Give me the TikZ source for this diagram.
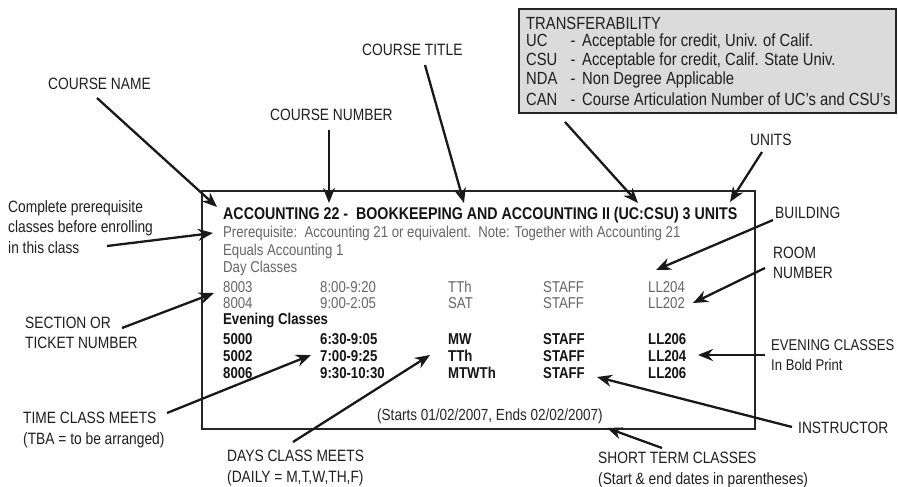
\documentclass[tikz,border=0pt]{standalone}
\usepackage{fontspec}
\setmainfont[FakeStretch=0.84]{Liberation Sans}
\usetikzlibrary{arrows.meta}
\begin{document}
\begin{tikzpicture}[x=1pt,y=-1pt,
 lab/.style={inner sep=0pt, anchor=west, font=\fontsize{16.4}{20.5}\selectfont, text=black!88, align=left},
 boxt/.style={inner sep=0pt, anchor=west, font=\fontsize{15.7}{17}\selectfont, text=black!60},
 boxb/.style={inner sep=0pt, anchor=west, font=\fontsize{15.7}{17}\selectfont\bfseries, text=black!92},
 trt/.style={inner sep=0pt, anchor=west, font=\fontsize{17.6}{18}\selectfont, text=black!88},
 arr/.style={-{Stealth[length=15pt,width=12pt]}, line width=2.3pt, draw=black!90},
 frame/.style={draw=black!85, line width=2pt},
]
\useasboundingbox (0,0) rectangle (898,487);
\fill[white] (0,0) rectangle (898,487);

% main course box
\draw[frame] (202,191) rectangle (755,429);
\node[boxb, font=\fontsize{16.95}{19}\selectfont\bfseries] (title) at (223,215) {ACCOUNTING 22 -\ \ BOOKKEEPING AND ACCOUNTING II (UC:CSU) 3 UNITS};
\node[boxt] (prereq) at (223,233) {Prerequisite:\ \ Accounting 21 or equivalent.\ \ Note: Together with Accounting 21};
\node[boxt] (equals) at (223,251) {Equals Accounting 1};
\node[boxt] (day) at (223,268) {Day Classes};
\node[boxt] (s1) at (223,287) {8003};
\node[boxt] (t1) at (320,287) {8:00-9:20};
\node[boxt] (d1) at (448,287) {TTh};
\node[boxt] (i1) at (543,287) {STAFF};
\node[boxt] (r1) at (648,287) {LL204};
\node[boxt] (s2) at (223,303) {8004};
\node[boxt] (t2) at (320,303) {9:00-2:05};
\node[boxt] (d2) at (448,303) {SAT};
\node[boxt] (i2) at (543,303) {STAFF};
\node[boxt] (r2) at (648,303) {LL202};
\node[boxb] (eve) at (223,320) {Evening Classes};
\node[boxb] (s3) at (223,339) {5000};
\node[boxb] (t3) at (320,339) {6:30-9:05};
\node[boxb] (d3) at (448,339) {MW};
\node[boxb] (i3) at (543,339) {STAFF};
\node[boxb] (r3) at (648,339) {LL206};
\node[boxb] (s4) at (223,356) {5002};
\node[boxb] (t4) at (320,356) {7:00-9:25};
\node[boxb] (d4) at (448,356) {TTh};
\node[boxb] (i4) at (543,356) {STAFF};
\node[boxb] (r4) at (648,356) {LL204};
\node[boxb] (s5) at (223,373) {8006};
\node[boxb] (t5) at (320,373) {9:30-10:30};
\node[boxb] (d5) at (448,373) {MTWTh};
\node[boxb] (i5) at (543,373) {STAFF};
\node[boxb] (r5) at (648,373) {LL206};
\node[boxt, anchor=center, text=black!85, font=\fontsize{16.1}{17}\selectfont] (dates) at (490,416) {(Starts 01/02/2007, Ends 02/02/2007)};

% transferability box
\draw[frame, fill=black!14] (519,9) rectangle (896,113);
\node[trt] (trh) at (526,23) {TRANSFERABILITY};
\node[trt] (tuc) at (526,42) {\makebox[38pt][l]{UC}\makebox[18pt]{-}Acceptable for credit, Univ. of Calif.};
\node[trt] (tcsu) at (526,61) {\makebox[38pt][l]{CSU}\makebox[18pt]{-}Acceptable for credit, Calif. State Univ.};
\node[trt] (tnda) at (526,80) {\makebox[38pt][l]{NDA}\makebox[18pt]{-}Non Degree Applicable};
\node[trt] (tcan) at (526,99) {\makebox[38pt][l]{CAN}\makebox[18pt]{-}Course Articulation Number of UC's and CSU's};

% labels
\node[lab] (lname) at (48,84) {COURSE NAME};
\node[lab] (lnum) at (270,115) {COURSE NUMBER};
\node[lab] (ltitle) at (362,50) {COURSE TITLE};
\node[lab] (lunits) at (750,140) {UNITS};
\node[lab] (lbuild) at (775,213) {BUILDING};
\node[lab] (lroom) at (773,263) {ROOM\\NUMBER};
\node[lab, font=\fontsize{15.6}{20.5}\selectfont] (leve) at (771,355) {EVENING CLASSES\\In Bold Print};
\node[lab] (linst) at (798,428) {INSTRUCTOR};
\node[lab] (lshort) at (598,470) {SHORT TERM CLASSES\\(Start \& end dates in parentheses)};
\node[lab] (ldays) at (227,468) {DAYS CLASS MEETS\\(DAILY = M,T,W,TH,F)};
\node[lab] (ltime) at (23,430) {TIME CLASS MEETS\\(TBA = to be arranged)};
\node[lab] (lsec) at (25,333) {SECTION OR\\TICKET NUMBER};
\node[lab] (lpre) at (8,227) {Complete prerequisite\\classes before enrolling\\in this class};

% arrow endpoints
\coordinate (a1s) at (97,98);   \coordinate (a1e) at (217,207);
\coordinate (a2s) at (329,130); \coordinate (a2e) at (329,203);
\coordinate (a3s) at (425,65);  \coordinate (a3e) at (464,203);
\coordinate (a4s) at (565,122); \coordinate (a4e) at (638,203);
\coordinate (a5s) at (762,152); \coordinate (a5e) at (730,202);
\coordinate (a6s) at (773,220); \coordinate (a6e) at (656,270);
\coordinate (a7s) at (765,268); \coordinate (a7e) at (693,303);
\coordinate (a8s) at (765,355); \coordinate (a8e) at (698,355);
\coordinate (a9s) at (792,427); \coordinate (a9e) at (597,377);
\coordinate (a10s) at (662,448); \coordinate (a10e) at (607,428);
\coordinate (a11s) at (293,442); \coordinate (a11e) at (430,355);
\coordinate (a12s) at (167,413); \coordinate (a12e) at (311,355);
\coordinate (a13s) at (122,328); \coordinate (a13e) at (214,293);
\coordinate (a14s) at (107,246); \coordinate (a14e) at (213,233);

\foreach \i in {1,...,14} \draw[arr] (a\i s) -- (a\i e);
\end{tikzpicture}
\end{document}
